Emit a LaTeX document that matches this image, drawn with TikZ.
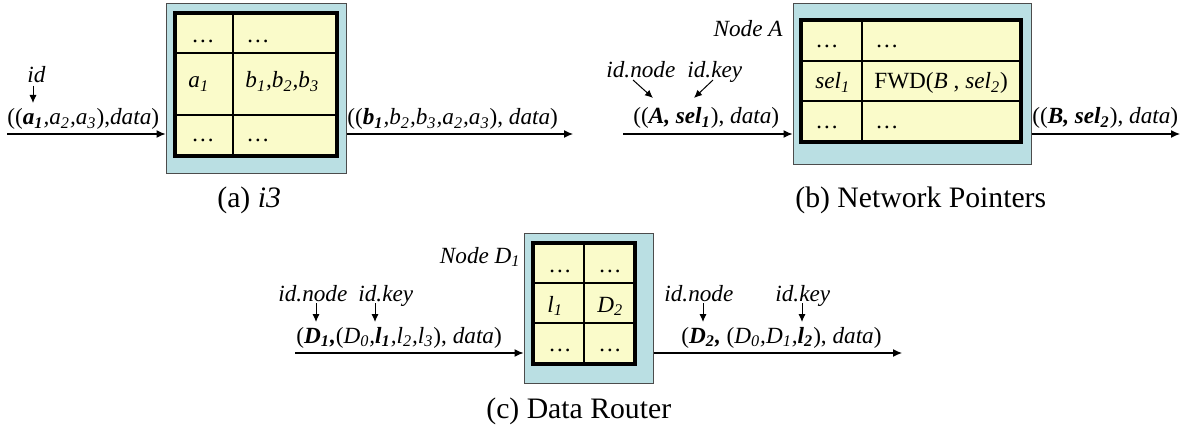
\documentclass[tikz,border=0pt]{standalone}
\usepackage{fontspec}
\setmainfont{Liberation Serif}
\usetikzlibrary{arrows.meta}
\definecolor{boxblue}{RGB}{186,223,227}
\definecolor{tabyellow}{RGB}{250,251,202}
\newcommand{\bi}[1]{\textbf{\textit{#1}}}
\newcommand{\sbs}[1]{\textsubscript{#1}}
\newcommand{\lblfont}{\fontsize{11.6}{13}\selectfont}
\newcommand{\capfont}{\fontsize{14.85}{17}\selectfont}
\tikzset{
  bluebox/.style={draw=black!70, line width=0.5pt, fill=boxblue, inner sep=0pt},
  tablebox/.style={draw=black, line width=1.8pt, fill=tabyellow, inner sep=0pt},
  gridline/.style={line width=0.6pt},
  flow/.style={line width=0.6pt, -{Latex[length=4.5pt,width=4pt]}},
  idarr/.style={line width=0.5pt, -{Latex[length=4pt,width=3.6pt]}},
  lbl/.style={inner sep=0pt, anchor=base west, font=\lblfont},
  lble/.style={inner sep=0pt, anchor=base east, font=\lblfont},
  caption/.style={inner sep=0pt, anchor=base west, font=\capfont},
}
\begin{document}
\begin{tikzpicture}[x=0.5pt,y=-0.5pt]
\useasboundingbox (0,0) rectangle (1183,433);

% ---------------- (a) i3 ----------------
\node[bluebox, minimum width=90pt, minimum height=84.5pt] (boxa) at (256,88.5) {};
\node[tablebox, minimum width=81pt, minimum height=71.5pt] (ta) at (256,84.5) {};
\draw[gridline] (233,0 |- ta.north) -- (233,0 |- ta.south);
\draw[gridline] (ta.west |- 0,53) -- (ta.east |- 0,53);
\draw[gridline] (ta.west |- 0,115) -- (ta.east |- 0,115);
\node[lbl] (ta11) at (191,43) {…};
\node[lbl] (ta12) at (246,43) {…};
\node[lbl] (ta21) at (188,88) {\textit{a\sbs{1}}};
\node[lbl] (ta22) at (245,88) {\textit{b\sbs{1},b\sbs{2},b\sbs{3}}};
\node[lbl] (ta31) at (191,141) {…};
\node[lbl] (ta32) at (246,141) {…};

\coordinate (ain) at (7,134);
\coordinate (aout) at (573,134);
\draw[flow] (ain) -- (ain -| boxa.west);
\draw[flow] (boxa.east |- aout) -- (aout);
\node[lbl] (ainl) at (7,125) {((\bi{a\sbs{1}}\textit{,a\sbs{2},a\sbs{3}}),\textit{data})};
\node[lbl] (aoutl) at (347,125) {((\bi{b\sbs{1}}\textit{,b\sbs{2},b\sbs{3},a\sbs{2},a\sbs{3}}), \textit{data})};
\node[lbl] (aid) at (27,83) {\textit{id}};
\coordinate (aidtip) at (33,103);
\draw[idarr] (aid.south -| aidtip) ++(0,2) -- (aidtip);
\node[caption] (capa) at (217,207) {(a) \textit{i3}};

% ---------------- (b) Network Pointers ----------------
\node[bluebox, minimum width=119pt, minimum height=80pt] (boxb) at (912,84) {};
\node[tablebox, minimum width=110pt, minimum height=61pt] (tb) at (911,81) {};
\draw[gridline] (862,0 |- tb.north) -- (862,0 |- tb.south);
\draw[gridline] (tb.west |- 0,61) -- (tb.east |- 0,61);
\draw[gridline] (tb.west |- 0,101) -- (tb.east |- 0,101);
\node[lbl] (tb11) at (815,48) {…};
\node[lbl] (tb12) at (875,48) {…};
\node[lbl] (tb21) at (815,89) {\textit{sel\sbs{1}}};
\node[lbl] (tb22) at (874,89) {FWD(\textit{B} , \textit{sel\sbs{2}})};
\node[lbl] (tb31) at (815,128) {…};
\node[lbl] (tb32) at (875,128) {…};
\node[lble] (nodeA) at (783,37) {\textit{Node A}};

\coordinate (bin) at (623,134);
\coordinate (bout) at (1180,134);
\draw[flow] (bin) -- (bin -| boxb.west);
\draw[flow] (boxb.east |- bout) -- (bout);
\node[lbl] (binl) at (633,124) {((\bi{A, sel\sbs{1}}), \textit{data})};
\node[lbl] (boutl) at (1032,124) {((\bi{B, sel\sbs{2}}), \textit{data})};
\node[lbl] (bidn) at (606,78) {\textit{id.node}};
\node[lbl] (bidk) at (687,78) {\textit{id.key}};
\coordinate (bidns) at (633,80);
\coordinate (bidnt) at (653,98);
\coordinate (bidks) at (713,80);
\coordinate (bidkt) at (694,98);
\draw[idarr] (bidns) -- (bidnt);
\draw[idarr] (bidks) -- (bidkt);
\node[caption] (capb) at (795,207) {(b) Network Pointers};

% ---------------- (c) Data Router ----------------
\node[bluebox, minimum width=64.5pt, minimum height=75pt] (boxc) at (588.5,308) {};
\node[tablebox, minimum width=51pt, minimum height=60.5pt] (tc) at (584,303.5) {};
\draw[gridline] (584,0 |- tc.north) -- (584,0 |- tc.south);
\draw[gridline] (tc.west |- 0,283) -- (tc.east |- 0,283);
\draw[gridline] (tc.west |- 0,323) -- (tc.east |- 0,323);
\node[lbl] (tc11) at (548,272) {…};
\node[lbl] (tc12) at (598,272) {…};
\node[lbl] (tc21) at (547,312) {\textit{l\sbs{1}}};
\node[lbl] (tc22) at (597,312) {\textit{D\sbs{2}}};
\node[lbl] (tc31) at (548,351) {…};
\node[lbl] (tc32) at (598,351) {…};
\node[lble] (nodeD) at (521,263) {\textit{Node D\sbs{1}}};

\coordinate (cin) at (295,353);
\coordinate (cout) at (902,353);
\draw[flow] (cin) -- (cin -| boxc.west);
\draw[flow] (boxc.east |- cout) -- (cout);
\node[lbl] (cinl) at (296,343) {(\bi{D\sbs{1},}(\textit{D\sbs{0},}\bi{l\sbs{1}}\textit{,l\sbs{2},l\sbs{3}}), \textit{data})};
\node[lbl] (coutl) at (681,343) {(\bi{D\sbs{2},} (\textit{D\sbs{0},D\sbs{1},}\bi{l\sbs{2}}), \textit{data})};
\node[lbl] (cidn1) at (278,301) {\textit{id.node}};
\node[lbl] (cidk1) at (358,301) {\textit{id.key}};
\node[lbl] (cidn2) at (664,301) {\textit{id.node}};
\node[lbl] (cidk2) at (775,301) {\textit{id.key}};
\coordinate (cn1t) at (316,322);
\coordinate (ck1t) at (375,322);
\coordinate (cn2t) at (703,322);
\coordinate (ck2t) at (802,322);
\draw[idarr] (cn1t |- 0,303) -- (cn1t);
\draw[idarr] (ck1t |- 0,303) -- (ck1t);
\draw[idarr] (cn2t |- 0,303) -- (cn2t);
\draw[idarr] (ck2t |- 0,303) -- (ck2t);
\node[caption] (capc) at (486,418) {(c) Data Router};
\end{tikzpicture}
\end{document}
